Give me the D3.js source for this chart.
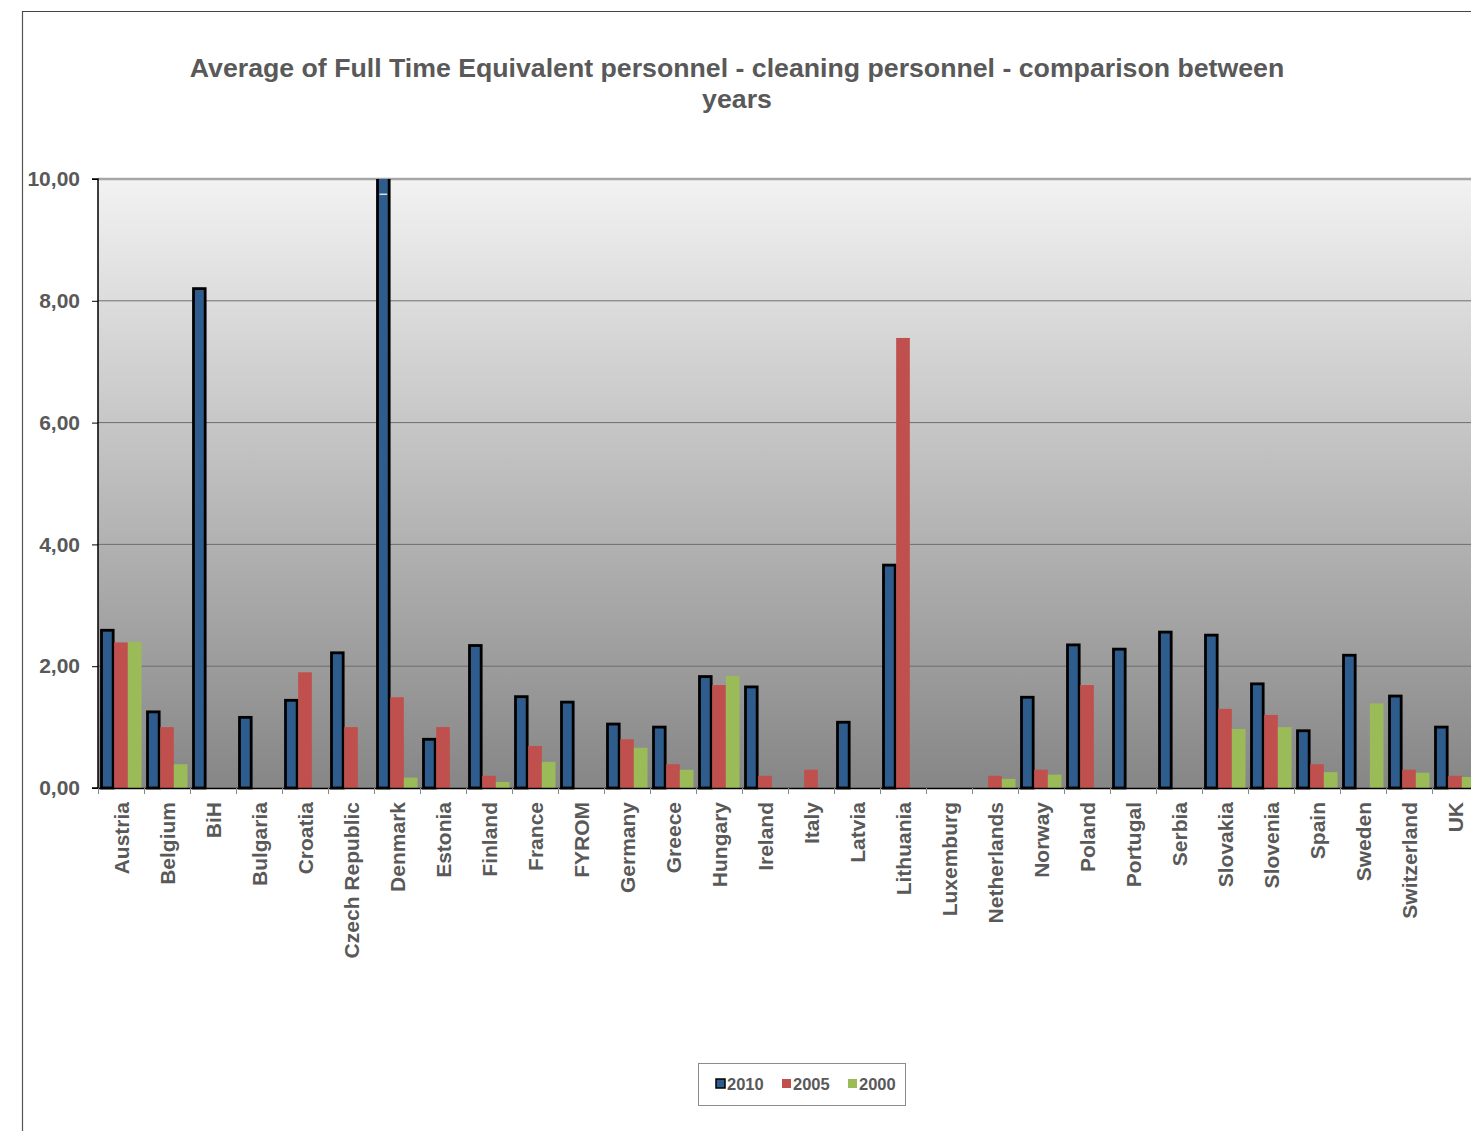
<!DOCTYPE html>
<html>
<head>
<meta charset="utf-8">
<script src="https://cdn.jsdelivr.net/npm/d3@7"></script>
<style>
html,body{margin:0;padding:0;background:#fff;overflow:hidden;}
svg{display:block;font-family:"Liberation Sans",Arial,sans-serif;}
</style>
</head>
<body>
<svg id="chart" width="1471" height="1131"></svg>
<script>
const countries = ["Austria","Belgium","BiH","Bulgaria","Croatia","Czech Republic","Denmark","Estonia","Finland","France","FYROM","Germany","Greece","Hungary","Ireland","Italy","Latvia","Lithuania","Luxemburg","Netherlands","Norway","Poland","Portugal","Serbia","Slovakia","Slovenia","Spain","Sweden","Switzerland","UK"];
const seriesNames = ["2010","2005","2000"];
const values2010 = [2.59,1.25,8.2,1.16,1.44,2.22,12.5,0.80,2.34,1.50,1.41,1.05,1.00,1.83,1.66,null,1.08,3.66,null,null,1.49,2.35,2.28,2.56,2.51,1.71,0.94,2.18,1.51,1.00];
const values2005 = [2.39,1.00,null,null,1.90,1.00,1.49,1.00,0.20,0.69,null,0.80,0.39,1.69,0.20,0.30,null,7.39,null,0.20,0.30,1.69,null,null,1.30,1.20,0.39,null,0.30,0.20];
const values2000 = [2.40,0.39,null,null,null,null,0.17,null,0.10,0.43,null,0.66,0.30,1.84,null,null,null,null,null,0.15,0.22,null,null,null,0.97,1.00,0.26,1.39,0.25,0.18];
const yTicks = [0,2,4,6,8,10];
const titleLines = ["Average of Full Time Equivalent personnel - cleaning personnel - comparison between","years"];

const colors = {"2010":"#2E5C8C","2005":"#C0504D","2000":"#9BBB59"};
const seriesValues = {"2010":values2010,"2005":values2005,"2000":values2000};

(function(){
const svg = d3.select("#chart");
const pL = 98, pT = 179, pB = 788, bandW = 46;
const pR = pL + countries.length * bandW;
const visRight = 1471;

// outer frame
svg.append("line").attr("x1",22.5).attr("x2",22.5).attr("y1",11).attr("y2",1131).attr("stroke","#555").attr("stroke-width",1.2);
svg.append("line").attr("x1",22).attr("x2",1471).attr("y1",11.5).attr("y2",11.5).attr("stroke","#444").attr("stroke-width",1.2);

// title
svg.append("text").attr("text-anchor","middle").attr("fill","#595959")
  .attr("font-weight","bold").attr("font-size",26.7)
  .selectAll("tspan").data(titleLines).join("tspan")
  .attr("x",737).attr("y",(d,i)=>77+i*31).text(d=>d);

const x0 = d3.scaleBand().domain(countries).range([pL,pR]).padding(0);
const x1 = d3.scaleBand().domain(seriesNames).range([2.5,43.5]).padding(0);
const y = d3.scaleLinear().domain([0,10]).range([pB,pT]);

const defs = svg.append("defs");
const grad = defs.append("linearGradient").attr("id","bg").attr("x1",0).attr("x2",0).attr("y1",0).attr("y2",1);
grad.append("stop").attr("offset","0%").attr("stop-color","#F2F2F2");
grad.append("stop").attr("offset","100%").attr("stop-color","#868686");
defs.append("clipPath").attr("id","clip").append("rect")
  .attr("x",pL).attr("y",pT).attr("width",visRight-pL).attr("height",pB-pT+2);

svg.append("rect").attr("x",pL).attr("y",pT).attr("width",visRight-pL).attr("height",pB-pT).attr("fill","url(#bg)");

// grid lines
svg.append("g").selectAll("line").data(yTicks.filter(d=>d>0)).join("line")
  .attr("x1",pL).attr("x2",visRight)
  .attr("y1",d=>y(d)).attr("y2",d=>y(d))
  .attr("stroke",d=>d===10?"#A6A6A6":"#6E6E6E")
  .attr("stroke-width",d=>d===10?2.5:1);

// bars
const plot = svg.append("g").attr("clip-path","url(#clip)");
const groups = plot.selectAll("g.grp").data(countries).join("g").attr("class","grp")
  .attr("transform",d=>`translate(${x0(d)},0)`);
groups.selectAll("rect").data((c,i)=>seriesNames.map(s=>({s,v:seriesValues[s][i]})).filter(d=>d.v!=null))
  .join("rect")
  .attr("x",d=>x1(d.s)+(d.s==="2010"?1:0))
  .attr("width",d=>x1.bandwidth()-(d.s==="2010"?2:0))
  .attr("y",d=>y(d.v))
  .attr("height",d=>y(0)-y(d.v))
  .attr("fill",d=>colors[d.s])
  .attr("stroke",d=>d.s==="2010"?"#000":"none")
  .attr("stroke-width",2.8);
// break marker on the clipped Denmark bar
plot.append("line")
  .attr("x1",x0("Denmark")+x1("2010")+3).attr("x2",x0("Denmark")+x1("2010")+x1.bandwidth()-3)
  .attr("y1",y(9.75)).attr("y2",y(9.75))
  .attr("stroke","#fff").attr("stroke-width",1.2);

// y axis
const yAxis = svg.append("g").attr("transform",`translate(${pL},0)`)
  .call(d3.axisLeft(y).tickValues(yTicks).tickSize(6).tickPadding(12).tickFormat(d=>d3.format(".2f")(d).replace(".",",")));
yAxis.select(".domain").attr("stroke","#000").attr("stroke-width",1.5).attr("d",`M-6,${pT}H0V${pB}H-6`);
yAxis.selectAll(".tick line").attr("stroke","#000");
yAxis.selectAll("text").attr("fill","#595959").attr("font-size",21).attr("font-weight","bold").attr("font-family","Liberation Sans, Arial, sans-serif");

// x axis
svg.append("line").attr("x1",pL).attr("x2",visRight).attr("y1",pB+0.5).attr("y2",pB+0.5).attr("stroke","#000").attr("stroke-width",1.5);
svg.append("g").selectAll("line").data(countries).join("line")
  .attr("x1",d=>x0(d)+0.5).attr("x2",d=>x0(d)+0.5)
  .attr("y1",pB).attr("y2",pB+6).attr("stroke","#888");
svg.append("g").selectAll("text").data(countries).join("text")
  .attr("transform",d=>`translate(${x0(d)+x0.bandwidth()/2+7.5},${pB+14}) rotate(-90)`)
  .attr("text-anchor","end").attr("fill","#595959").attr("font-size",21).attr("font-weight","bold")
  .text(d=>d);

// legend
const lg = svg.append("g");
lg.append("rect").attr("x",698.5).attr("y",1063.5).attr("width",207).attr("height",42).attr("fill","#fff").attr("stroke","#8c8c8c").attr("stroke-width",1);
const lx = [716,782,848];
const items = lg.selectAll("g").data(seriesNames).join("g").attr("transform",(d,i)=>`translate(${lx[i]},1079)`);
items.append("rect").attr("x",0).attr("y",0).attr("width",9).attr("height",9)
  .attr("fill",d=>colors[d]).attr("stroke",d=>d==="2010"?"#000":"none").attr("stroke-width",1.5);
items.append("text").attr("x",11).attr("y",10.5).attr("fill","#595959").attr("font-size",16.5).attr("font-weight","bold").text(d=>d);
})();
</script>
</body>
</html>
